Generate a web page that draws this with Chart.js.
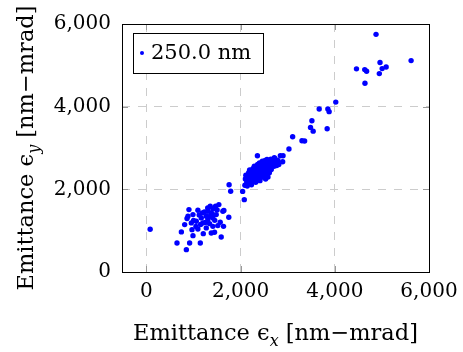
<!DOCTYPE html>
<html><head><meta charset="utf-8">
<script src="https://cdn.jsdelivr.net/npm/chart.js@4/dist/chart.umd.min.js"></script>
<style>html,body{margin:0;padding:0;background:#fff}#w{width:463px;height:352px}</style>
</head><body><div id="w"><canvas id="c" width="463" height="352"></canvas></div>
<script>
const seriesLabel = '250.0 nm';
const emitX = [
  4875,5620,4460,4635,4675,4960,5005,5090,4945,4640,
  4020,3668,3852,3879,3513,3484,3540,3837,3104,3302,3358,3026,2843,2900,2892,2356,2715,2764,1755,1788,2042,2077,78,
  2090,2100,2110,2130,2150,2140,2170,2180,2190,2200,2210,2230,2240,2250,
  2260,2270,2280,2290,2300,2310,2320,2330,2340,2350,
  2360,2370,2380,2390,2400,2410,2420,2430,2440,2450,
  2460,2470,2480,2490,2500,2510,2520,2530,2540,2550,
  2560,2570,2580,2600,2610,2620,2640,2650,
  2670,2690,2710,2730,2760,2790,2810,
  902,1092,1185,1354,1467,1410,1622,1748,1566,1636,1445,1376,1587,1206,1143,916,847,648,741,811,
  987,966,1092,1198,1304,881,987,1270,1410,1304,1481,1058,952,1164,1515,1410,1270,1340,1537,1376,1644,861,
  1230,1120,1000,1350,1450,1250,1050,1150,1500,1300,1400
];
const emitY = [
  5750,5115,4915,4897,4856,5067,4921,4960,4800,4568,
  4110,3942,3942,3880,3660,3498,3408,3467,3273,3176,3168,2974,2812,2812,2667,2812,2764,2577,2112,1955,1950,1750,1034,
  2100,2250,2340,2180,2290,2080,2400,2150,2470,2230,2330,2110,2420,2270,
  2500,2190,2380,2560,2300,2450,2170,2360,2530,2240,
  2600,2420,2300,2510,2640,2210,2370,2560,2460,2290,
  2680,2400,2560,2330,2620,2480,2700,2250,2390,2590,
  2720,2480,2300,2650,2400,2560,2730,2480,
  2620,2700,2560,2740,2640,2700,2600,
  1510,1493,1430,1590,1590,1527,1469,1324,1202,1105,960,945,848,928,703,703,541,703,970,1147,
  880,1025,1042,1188,1268,1348,1389,1348,1309,1469,1389,1227,1188,1309,1122,1105,1067,1171,1631,1430,1487,1293,
  1450,1380,1250,1350,1250,1200,1100,1150,1500,1550,1400
];
const xTicks = [0, 2000, 4000, 6000];
const yTicks = [0, 2000, 4000, 6000];
const xTitleParts = ['Emittance ϵ', 'x', ' [nm−mrad]'];
const yTitleParts = ['Emittance ϵ', 'y', ' [nm−mrad]'];

const FONT = '"DejaVu Serif", serif';
const points = emitX.map((x, i) => ({x, y: emitY[i]}));

function drawTitle(ctx, parts, size) {
  const f = size + 'px ' + FONT;
  const fs = 'italic ' + Math.round(size * 0.7) + 'px ' + FONT;
  ctx.font = f; const w1 = ctx.measureText(parts[0]).width;
  ctx.font = fs; const w2 = ctx.measureText(parts[1]).width;
  ctx.font = f; const w3 = ctx.measureText(parts[2]).width;
  let x = -(w1 + w2 + w3) / 2;
  ctx.textAlign = 'left'; ctx.textBaseline = 'alphabetic'; ctx.fillStyle = '#000';
  ctx.font = f; ctx.fillText(parts[0], x, 0); x += w1;
  ctx.font = fs; ctx.fillText(parts[1], x, size * 0.25); x += w2;
  ctx.font = f; ctx.fillText(parts[2], x, 0);
}

const framePlugin = {
  id: 'frame',
  beforeDatasetsDraw(chart) {
    const {ctx, chartArea: a, scales} = chart;
    ctx.save();
    ctx.strokeStyle = '#999'; ctx.lineWidth = 1;
    const tl = 6;
    ctx.beginPath();
    xTicks.forEach(v => {
      const px = Math.round(scales.x.getPixelForValue(v)) + 0.5;
      ctx.moveTo(px, a.bottom); ctx.lineTo(px, a.bottom - tl);
      ctx.moveTo(px, a.top); ctx.lineTo(px, a.top + tl);
    });
    yTicks.forEach(v => {
      const py = Math.round(scales.y.getPixelForValue(v)) + 0.5;
      ctx.moveTo(a.left, py); ctx.lineTo(a.left + tl, py);
      ctx.moveTo(a.right, py); ctx.lineTo(a.right - tl, py);
    });
    ctx.stroke();
    ctx.strokeStyle = '#000';
    ctx.strokeRect(Math.round(a.left) + 0.5, Math.round(a.top) + 0.5,
                   Math.round(a.right - a.left), Math.round(a.bottom - a.top));
    ctx.restore();
  },
  afterDraw(chart) {
    const {ctx, chartArea: a} = chart;
    ctx.save();
    ctx.translate((a.left + a.right) / 2, 340);
    drawTitle(ctx, xTitleParts, 22.5);
    ctx.restore();
    ctx.save();
    ctx.translate(33, (a.top + a.bottom) / 2);
    ctx.rotate(-Math.PI / 2);
    drawTitle(ctx, yTitleParts, 22.5);
    ctx.restore();
    // legend
    ctx.save();
    const lx = a.left + 11, ly = a.top + 9, lw = 130, lh = 40;
    ctx.fillStyle = '#fff'; ctx.fillRect(lx, ly, lw, lh);
    ctx.strokeStyle = '#000'; ctx.lineWidth = 1;
    ctx.strokeRect(Math.round(lx) + 0.5, Math.round(ly) + 0.5, lw, lh);
    ctx.fillStyle = '#0000ff';
    ctx.beginPath(); ctx.arc(lx + 9, ly + 20, 2, 0, Math.PI * 2); ctx.fill();
    ctx.fillStyle = '#000'; ctx.font = '21px ' + FONT;
    ctx.textAlign = 'left'; ctx.textBaseline = 'middle';
    ctx.fillText(chart.data.datasets[0].label, lx + 18, ly + 21);
    ctx.restore();
  }
};

const fmt = v => Number(v).toLocaleString('en-US');

new Chart(document.getElementById('c'), {
  type: 'scatter',
  data: { datasets: [{
    label: seriesLabel, data: points,
    backgroundColor: '#0000ff', borderWidth: 0, pointRadius: 2.7, pointHoverRadius: 2.7
  }]},
  options: {
    responsive: false, animation: false, devicePixelRatio: 1,
    layout: { padding: { top: 24, right: 34, left: 0, bottom: 0 } },
    plugins: { legend: { display: false }, tooltip: { enabled: false } },
    scales: {
      x: {
        type: 'linear', min: -520, max: 6000,
        afterBuildTicks: s => { s.ticks = xTicks.map(v => ({value: v})); },
        afterFit: s => { s.height = 80; s.paddingLeft = 0; s.paddingRight = 0; },
        ticks: { callback: fmt, color: '#000', font: { family: FONT, size: 20 }, padding: 8, maxRotation: 0 },
        grid: { color: '#cccccc', lineWidth: 1, drawTicks: false },
        border: { display: false, dash: [8, 8] }
      },
      y: {
        type: 'linear', min: 0, max: 6000,
        afterBuildTicks: s => { s.ticks = yTicks.map(v => ({value: v})); },
        afterFit: s => { s.width = 122; s.paddingTop = 0; s.paddingBottom = 0; },
        ticks: { callback: fmt, color: '#000', font: { family: FONT, size: 20 }, padding: 11 },
        grid: { color: '#cccccc', lineWidth: 1, drawTicks: false },
        border: { display: false, dash: [8, 8] }
      }
    }
  },
  plugins: [framePlugin]
});
</script></body></html>
